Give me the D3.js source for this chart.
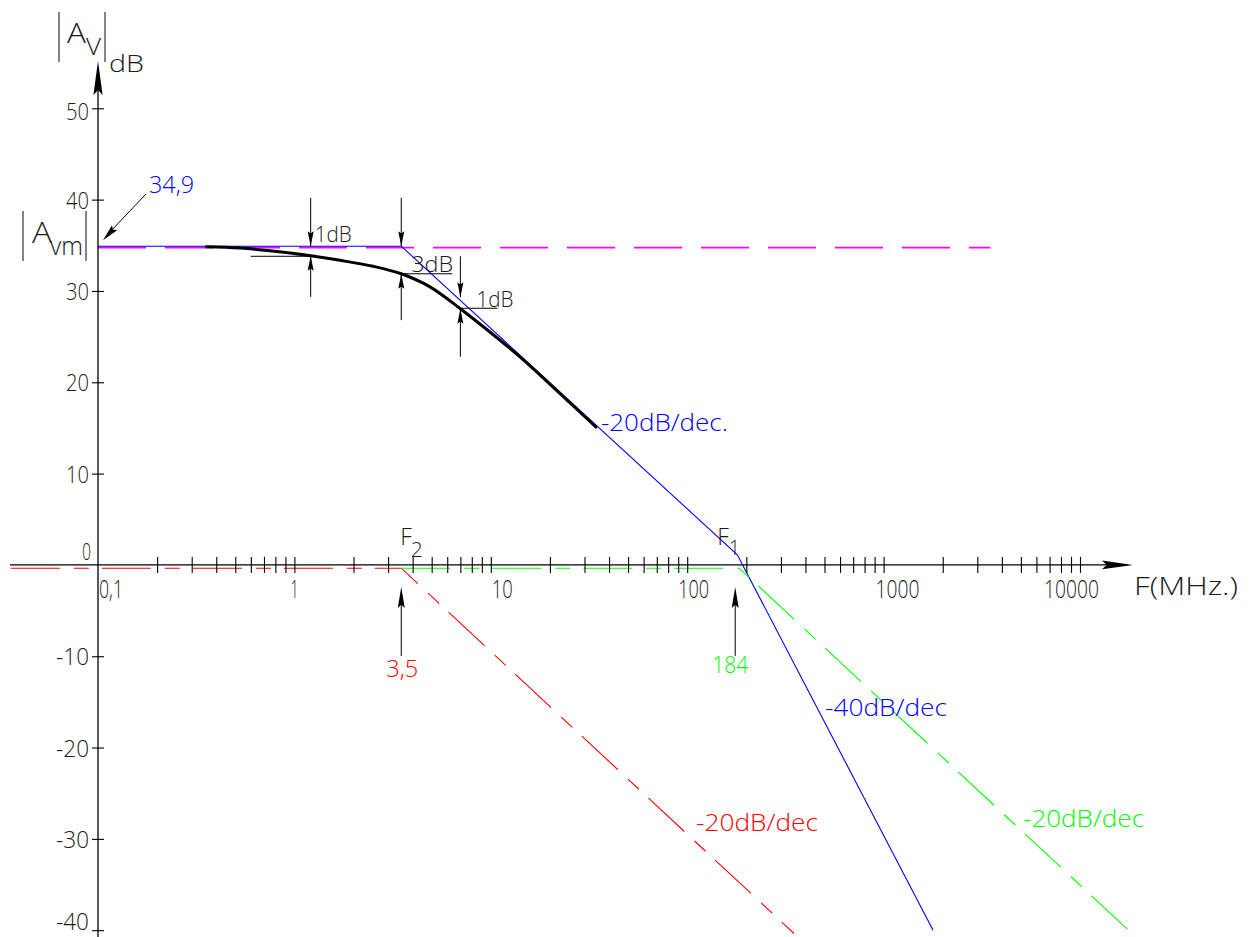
<!DOCTYPE html>
<html><head><meta charset="utf-8">
<script src="https://cdn.jsdelivr.net/npm/d3@7"></script>
<style>
html,body{margin:0;padding:0;background:#fff;}
svg{display:block;}
text{font-family:"Open Sans","Lato","DejaVu Sans",sans-serif;font-weight:300;}
</style></head><body>
<svg id="chart" width="1253" height="937"></svg>
<script>
// ---------------- data ----------------
const xTickValues = [0.1, 1, 10, 100, 1000, 10000];
const xTickLabels = ["0,1", "1", "10", "100", "1000", "10000"];
const yTickValues = [-40, -30, -20, -10, 0, 10, 20, 30, 40, 50];
const yTickLabels = ["-40", "-30", "-20", "-10", "0", "10", "20", "30", "40", "50"];

const F2 = 3.5, F1 = 184, AVM = 34.9;

// mid-band gain reference (magenta dashed)
const avmFreq = [0.1, 3500];
const avmDb   = [34.9, 34.9];
// total asymptote (blue)
const blueFreq = [0.1, 3.5, 180, 1786];
const blueDb   = [34.9, 34.9, 1.1, -40];
// pole F2 asymptote (red dashed)
const redFreq = [0.036, 3.5, 350];
const redDb   = [0, 0, -40];
// pole F1 asymptote (green dashed)
const greenFreq = [3.5, 184, 18400];
const greenDb   = [0, 0, -40];
// real response (black)
const curveFreq = [0.352, 0.53, 0.86, 1.21, 1.71, 2.52, 3.5, 4.9, 7.0, 10.3, 13.8, 17.9, 25, 34.7];
const curveDb   = [34.83, 34.69, 34.27, 33.85, 33.35, 32.7, 31.88, 30.45, 28.05, 25.2, 22.95, 20.75, 17.85, 15.0];

// dimension arrows: [freq, fromDb, toDb]
const dimArrows = [
  [1.21, 40.2, 34.9], [1.21, 29.35, 33.85],
  [3.5, 40.2, 34.9],  [3.5, 26.8, 31.88],
  [7.0, 33.8, 29.3],  [7.0, 22.8, 28.05]
];

// ---------------- scales ----------------
const svg = d3.select("#chart");
const x = d3.scaleLog().domain([0.1, 10000]).range([98, 1080]);
const y = d3.scaleLinear().domain([-40, 50]).range([930.2, 108.3]);
const X0 = x(0.1), Y0 = y(0);

const BLUE = "#0000ff", RED = "#ff0000", GREEN = "#00ff00", MAG = "#ff00ff";
const line = d3.line().x(d => x(d[0])).y(d => y(d[1]));
const zip = (a, b) => a.map((v, i) => [v, b[i]]);

function arrowHead(g, tx, ty, dx, dy, len, hw, color) {
  const n = Math.hypot(dx, dy); dx /= n; dy /= n;
  const bx = tx - dx * len, by = ty - dy * len, px = -dy, py = dx;
  g.append("polygon")
    .attr("points", [[tx, ty], [bx + px * hw, by + py * hw], [tx - dx * len * 0.85, ty - dy * len * 0.85], [bx - px * hw, by - py * hw]].map(p => p.join(",")).join(" "))
    .attr("fill", color || "#000").attr("stroke", "none");
}
function label(g, str, xx, yy, size, len, color, anchor) {
  const t = g.append("text").attr("x", xx).attr("y", yy)
    .attr("font-size", size).attr("fill", color || "#000")
    .attr("text-anchor", anchor || "start").text(str);
  if (len) t.attr("textLength", len).attr("lengthAdjust", "spacingAndGlyphs");
  return t;
}
function subLabel(g, main, sub, xx, yy, size, subSize, subDx, subDy) {
  const t = g.append("text").attr("x", xx).attr("y", yy).attr("font-size", size).attr("fill", "#1a1a1a");
  t.append("tspan").text(main);
  t.append("tspan").attr("dx", subDx).attr("dy", subDy).attr("font-size", subSize).text(sub);
  return t;
}

// ---------------- series ----------------
const gS = svg.append("g");
gS.append("path").datum(zip(avmFreq, avmDb)).attr("d", line)
  .attr("transform", "translate(0,1.5)")
  .attr("fill", "none").attr("stroke", MAG).attr("stroke-width", 1.8)
  .attr("stroke-dasharray", "48,19");
gS.append("path").datum(zip(blueFreq, blueDb)).attr("d", line)
  .attr("fill", "none").attr("stroke", BLUE).attr("stroke-width", 1.1);
gS.append("path").datum(zip(redFreq, redDb)).attr("d", line)
  .attr("transform", "translate(0,3.3)")
  .attr("fill", "none").attr("stroke", RED).attr("stroke-width", 1.1)
  .attr("stroke-dasharray", "49,14,15,13");
gS.append("path").datum(zip(greenFreq, greenDb)).attr("d", line)
  .attr("transform", "translate(0,3.3)")
  .attr("fill", "none").attr("stroke", GREEN).attr("stroke-width", 1.1)
  .attr("stroke-dasharray", "49,14,15,13");

// ---------------- axes ----------------
const gA = svg.append("g");
// x axis
const xMinor = x.ticks().filter(v => v > 0.1 && v <= 10000);
const xAxis = gA.append("g").attr("transform", `translate(0,${Y0})`)
  .call(d3.axisBottom(x).tickValues(xMinor).tickSize(8).tickFormat(""));
xAxis.select(".domain").remove();
xAxis.selectAll(".tick line").attr("y1", -8).attr("y2", 8).attr("stroke", "#000").attr("stroke-width", 1.1);
gA.append("line").attr("x1", 10).attr("x2", 1110).attr("y1", Y0).attr("y2", Y0)
  .attr("stroke", "#000").attr("stroke-width", 1.3);
arrowHead(gA, 1133, Y0, 1, 0, 31, 4.3);

// y axis
const yAxis = gA.append("g").attr("transform", `translate(${X0},0)`)
  .call(d3.axisLeft(y).tickValues(yTickValues.filter(v => v !== 0)).tickSize(6).tickFormat(""));
yAxis.select(".domain").remove();
yAxis.selectAll(".tick line").attr("x1", -6).attr("x2", 6).attr("stroke", "#000").attr("stroke-width", 1.1);
gA.append("line").attr("x1", X0).attr("x2", X0).attr("y1", 937).attr("y2", 80)
  .attr("stroke", "#000").attr("stroke-width", 1.3);
arrowHead(gA, X0, 61, 0, -1, 34, 4.6);

// tick labels
const gL = svg.append("g").attr("fill", "#1a1a1a");
const xLabelStart = {"0,1": 1, "1": -4, "10": 1, "100": -9, "1000": -8, "10000": -36};
const xLabelLen = {"0,1": 24, "1": 8, "10": 21, "100": 31, "1000": 44, "10000": 55};
xTickValues.forEach((v, i) => {
  const s = xTickLabels[i];
  label(gL, s, x(v) + xLabelStart[s], Y0 + 33, 25, xLabelLen[s], "#1a1a1a");
});
yTickValues.forEach((v, i) => {
  const s = yTickLabels[i];
  if (v === 0) { label(gL, s, X0 - 16, Y0 - 5, 24, 9, "#1a1a1a"); return; }
  const dy = v === -40 ? 0 : (v === 50 ? 12 : 9);
  label(gL, s, X0 - 9, y(v) + dy, v === -40 ? 23 : 24, s.length > 2 ? 33 : 23, "#1a1a1a", "end");
});

// ---------------- real response ----------------
svg.append("path").datum(zip(curveFreq, curveDb))
  .attr("d", d3.line().x(d => x(d[0])).y(d => y(d[1])).curve(d3.curveCatmullRom.alpha(0.5)))
  .attr("fill", "none").attr("stroke", "#000").attr("stroke-width", 3);

// ---------------- annotations ----------------
const gN = svg.append("g");
dimArrows.forEach(([f, from, to]) => {
  const xx = x(f), y1 = y(from), y2 = y(to);
  gN.append("line").attr("x1", xx).attr("x2", xx).attr("y1", y1).attr("y2", y2)
    .attr("stroke", "#000").attr("stroke-width", 1);
  arrowHead(gN, xx, y2, 0, y2 > y1 ? 1 : -1, 15, 3);
});
// leader / underline lines
gN.append("line").attr("x1", x(1.21) - 60).attr("x2", x(1.21)).attr("y1", y(33.85) + 0.5).attr("y2", y(33.85) + 0.5)
  .attr("stroke", "#000").attr("stroke-width", 1);
gN.append("line").attr("x1", x(F2)).attr("x2", x(F2) + 51).attr("y1", y(31.88)).attr("y2", y(31.88))
  .attr("stroke", "#000").attr("stroke-width", 1);
gN.append("line").attr("x1", x(7.0)).attr("x2", x(7.0) + 37).attr("y1", y(28.05) - 0.5).attr("y2", y(28.05) - 0.5)
  .attr("stroke", "#000").attr("stroke-width", 1);
label(gN, "1dB", x(1.21) + 4, y(AVM) - 4, 22, 37, "#1a1a1a");
label(gN, "3dB", x(F2) + 10, y(31.88) - 2, 22, 42, "#1a1a1a");
label(gN, "1dB", x(7.0) + 16, y(28.05) - 2, 22, 37, "#1a1a1a");

// 34,9 pointer
gN.append("line").attr("x1", 146).attr("y1", 194).attr("x2", X0 + 8).attr("y2", y(AVM) - 10)
  .attr("stroke", "#000").attr("stroke-width", 1);
arrowHead(gN, X0 + 5, y(AVM) - 6, X0 + 5 - 146, y(AVM) - 6 - 194, 17, 3.5);
label(gN, "34,9", 149, 193, 23, 45, BLUE);

// F2 / F1 markers
[[F2, "3,5", RED, -15, 32, 112], [F1, "184", GREEN, -27, 36, 108]].forEach(([f, s, c, dx, len, ty]) => {
  const xx = f === F1 ? x(f) - 4 : x(f);
  gN.append("line").attr("x1", xx).attr("x2", xx).attr("y1", Y0 + 91).attr("y2", Y0 + 30)
    .attr("stroke", "#000").attr("stroke-width", 1);
  arrowHead(gN, xx, Y0 + 22, 0, -1, 21, 3.5);
  label(gN, s, x(f) + dx, Y0 + ty, 23, len, c);
});
// F2 and F1 labels with subscripts
subLabel(gN, "F", "2", x(F2) - 1, Y0 - 20, 23, 21, -1, 12);
subLabel(gN, "F", "1", x(F1) - 22, Y0 - 20, 23, 20, 0, 10);

// slope labels
label(gN, "-20dB/dec.", x(34.7) + 4, y(15.0) + 3, 23, 127, BLUE);
label(gN, "-40dB/dec", 825, 716, 23, 122, BLUE);
label(gN, "-20dB/dec", 696, 831, 23, 122, RED);
label(gN, "-20dB/dec", 1023, 827, 23, 121, GREEN);
label(gN, "F(MHz.)", 1134, Y0 + 30, 25, 104, "#1a1a1a");

// axis title |Av|dB
const gT = svg.append("g").attr("fill", "#1a1a1a");
gT.append("line").attr("x1", 59).attr("x2", 59).attr("y1", 12).attr("y2", 62).attr("stroke", "#333").attr("stroke-width", 1.2);
gT.append("line").attr("x1", 105).attr("x2", 105).attr("y1", 12).attr("y2", 62).attr("stroke", "#333").attr("stroke-width", 1.2);
label(gT, "A", 67, 43, 28, 19, "#1a1a1a");
label(gT, "V", 86, 55, 24, 15, "#1a1a1a");
label(gT, "dB", 109, 72, 24, 35, "#1a1a1a");
// |Avm|
gT.append("line").attr("x1", 23).attr("x2", 23).attr("y1", 211).attr("y2", 261).attr("stroke", "#333").attr("stroke-width", 1.2);
gT.append("line").attr("x1", 86).attr("x2", 86).attr("y1", 211).attr("y2", 261).attr("stroke", "#333").attr("stroke-width", 1.2);
label(gT, "A", 32, 243, 30, 20, "#1a1a1a");
label(gT, "vm", 50, 255, 26, 33, "#1a1a1a");
</script>
</body></html>
